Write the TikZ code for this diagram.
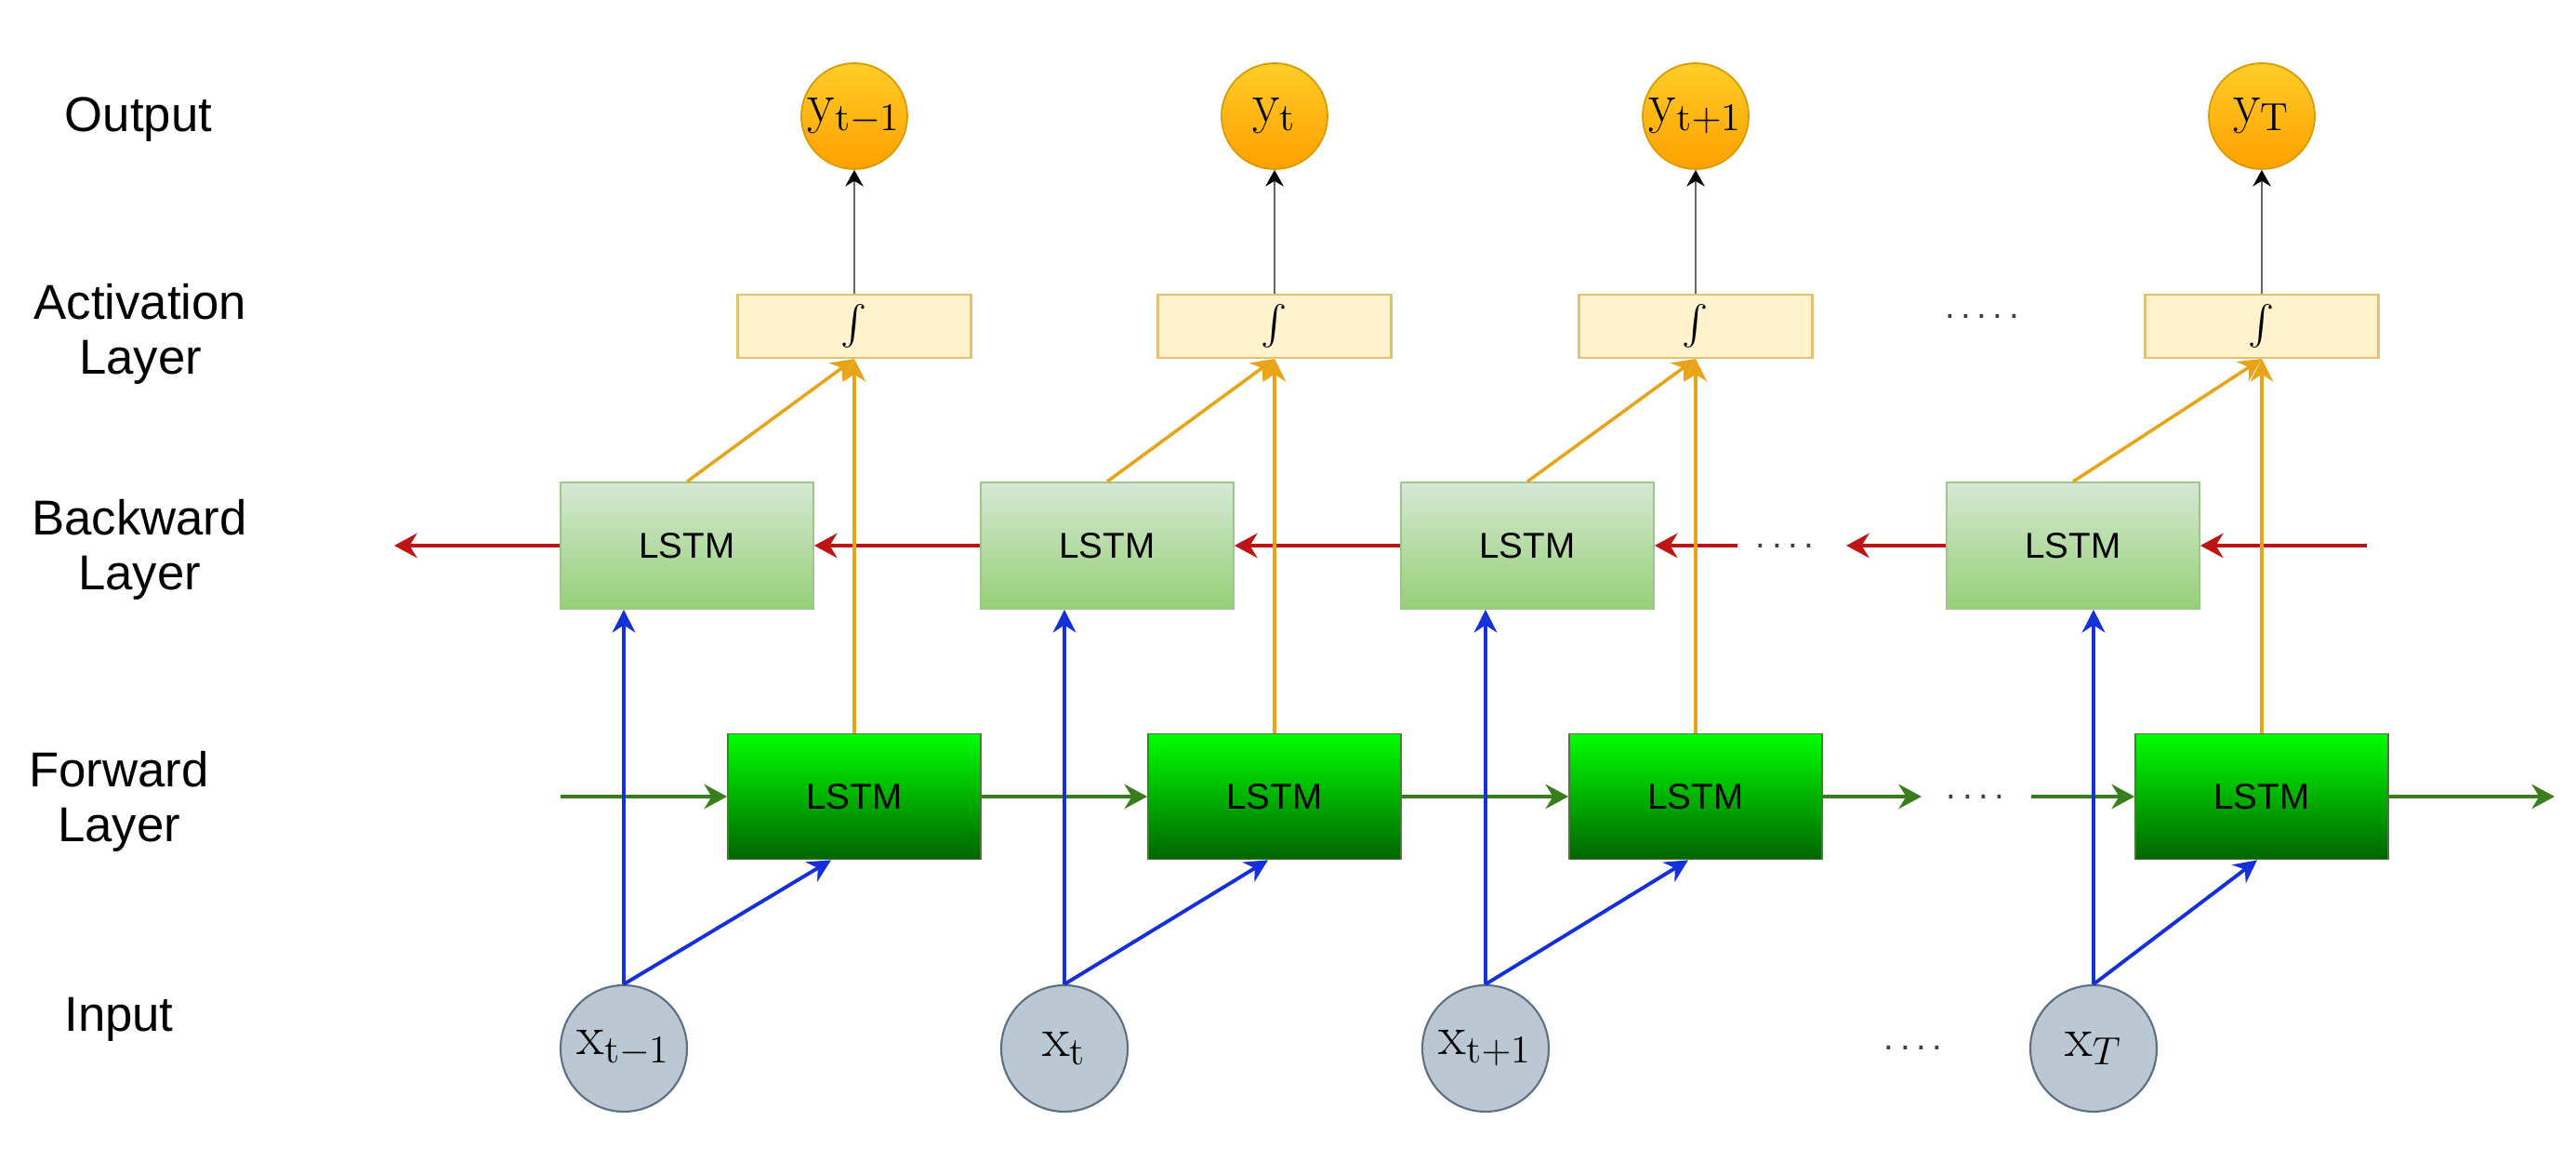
\documentclass[tikz,border=0pt]{standalone}
\usepackage{amsmath}
\usepackage{fontspec}
\newfontfamily\lblfont{Liberation Sans}
\usetikzlibrary{arrows.meta}
\definecolor{outtop}{HTML}{FFCD28}
\definecolor{outbot}{HTML}{FFA000}
\definecolor{outedge}{HTML}{D79B00}
\definecolor{actfill}{HTML}{FFF2CC}
\definecolor{actedge}{HTML}{E0C270}
\definecolor{bwtop}{HTML}{D5E8D4}
\definecolor{bwbot}{HTML}{97D077}
\definecolor{bwedge}{HTML}{9CC78A}
\definecolor{fwtop}{HTML}{00FF00}
\definecolor{fwbot}{HTML}{006400}
\definecolor{fwedge}{HTML}{4A7A3A}
\definecolor{infill}{HTML}{BAC8D3}
\definecolor{inedge}{HTML}{5B7083}
\definecolor{redarr}{HTML}{BE1414}
\definecolor{greenarr}{HTML}{3A7D1C}
\definecolor{bluearr}{HTML}{1530D8}
\definecolor{orangearr}{HTML}{E8A317}
\begin{document}
\begin{tikzpicture}
    \tikzstyle{outnode}=[circle, minimum size=1.14cm, inner sep=0pt, draw=outedge, line width=0.5pt, top color=outtop, bottom color=outbot, font=\LARGE]
    \tikzstyle{innode}=[circle, minimum size=1.36cm, inner sep=0pt, draw=inedge, line width=0.6pt, fill=infill, font=\LARGE]
    \tikzstyle{actbox}=[rectangle, minimum width=2.51cm, minimum height=0.68cm, inner sep=0pt, draw=actedge, line width=0.6pt, fill=actfill, font=\large]
    \tikzstyle{bwbox}=[rectangle, minimum width=2.72cm, minimum height=1.36cm, inner sep=0pt, draw=bwedge, line width=0.5pt, top color=bwtop, bottom color=bwbot, font=\lblfont\fontsize{11}{13}\selectfont]
    \tikzstyle{fwbox}=[rectangle, minimum width=2.72cm, minimum height=1.35cm, inner sep=0pt, draw=fwedge, line width=0.5pt, top color=fwtop, bottom color=fwbot, font=\lblfont\fontsize{11}{13}\selectfont]
    \tikzstyle{layer}=[align=center, inner sep=0pt, font=\lblfont\fontsize{15}{16.8}\selectfont]
    \tikzstyle{gap}=[inner sep=0pt, text=black!75, font=\lblfont\fontsize{11}{13}\selectfont]
    \tikzstyle{outarr}=[draw=black!60, line width=0.8pt, -{Stealth[length=5pt,width=5.5pt,color=black]}]
    \tikzstyle{orarr}=[draw=orangearr, line width=1pt, -{Stealth[length=7pt,width=7pt]}]
    \tikzstyle{bluarr}=[draw=bluearr, line width=1.1pt, -{Stealth[length=7pt,width=7pt]}]
    \tikzstyle{bwarr}=[draw=redarr, line width=1.3pt, -{Stealth[length=7pt,width=7.5pt]}]
    \tikzstyle{fwarr}=[draw=greenarr, line width=1.1pt, -{Stealth[length=7pt,width=7.5pt]}]

    \useasboundingbox (0,0) rectangle (27.71,12.48);

    \node[layer] (lout) at (1.49,11.19) {Output};
    \node[layer] (lact) at (1.51,8.89) {Activation\\Layer};
    \node[layer] (lbw)  at (1.50,6.57) {Backward\\Layer};
    \node[layer] (lfw)  at (1.28,3.86) {Forward\\Layer};
    \node[layer] (lin)  at (1.28,1.51) {Input};

    \node[outnode] (y1) at (9.19,11.23)  {$\mathrm{y}_{\mathrm{t-1}}$};
    \node[outnode] (y2) at (13.71,11.23) {$\mathrm{y}_{\mathrm{t}}$};
    \node[outnode] (y3) at (18.24,11.23) {$\mathrm{y}_{\mathrm{t+1}}$};
    \node[outnode] (y4) at (24.33,11.23) {$\mathrm{y}_{\mathrm{T}}$};

    \node[actbox] (a1) at (9.19,8.97)  {$\int$};
    \node[actbox] (a2) at (13.71,8.97) {$\int$};
    \node[actbox] (a3) at (18.24,8.97) {$\int$};
    \node[actbox] (a4) at (24.33,8.97) {$\int$};

    \node[bwbox] (b1) at (7.39,6.61)  {LSTM};
    \node[bwbox] (b2) at (11.91,6.61) {LSTM};
    \node[bwbox] (b3) at (16.43,6.61) {LSTM};
    \node[bwbox] (b4) at (22.30,6.61) {LSTM};

    \node[fwbox] (f1) at (9.19,3.91)  {LSTM};
    \node[fwbox] (f2) at (13.71,3.91) {LSTM};
    \node[fwbox] (f3) at (18.24,3.91) {LSTM};
    \node[fwbox] (f4) at (24.33,3.91) {LSTM};

    \node[innode] (x1) at (6.71,1.20)  {$\mathrm{x}_{\mathrm{t-1}}$};
    \node[innode] (x2) at (11.45,1.20) {$\mathrm{x}_{\mathrm{t}}$};
    \node[innode] (x3) at (15.98,1.20) {$\mathrm{x}_{\mathrm{t+1}}$};
    \node[innode] (x4) at (22.52,1.20) {$\mathrm{x}_{T}$};

    \node[gap] (dact) at (21.32,9.08) {.\,.\,.\,.\,.};
    \node[gap] (dbw)  at (19.20,6.61) {.\,.\,.\,.};
    \node[gap] (dfw)  at (21.25,3.91) {.\,.\,.\,.};
    \node[gap] (din)  at (20.58,1.21) {.\,.\,.\,.};

    \coordinate (bwend)   at (4.24,6.61);
    \coordinate (bwstart) at (25.46,6.61);
    \coordinate (bwtip)   at (19.86,6.61);
    \coordinate (bwtail)  at (18.69,6.61);
    \coordinate (fwstart) at (6.03,3.91);
    \coordinate (fwend)   at (27.48,3.91);
    \coordinate (fwtip)   at (20.67,3.91);
    \coordinate (fwtail)  at (21.85,3.91);

    \draw[bwarr] (b1.west) -- (bwend);
    \draw[bwarr] (b2.west) -- (b1.east);
    \draw[bwarr] (b3.west) -- (b2.east);
    \draw[bwarr] (bwtail) -- (b3.east);
    \draw[bwarr] (b4.west) -- (bwtip);
    \draw[bwarr] (bwstart) -- (b4.east);

    \draw[fwarr] (fwstart) -- (f1.west);
    \draw[fwarr] (f1.east) -- (f2.west);
    \draw[fwarr] (f2.east) -- (f3.west);
    \draw[fwarr] (f3.east) -- (fwtip);
    \draw[fwarr] (fwtail) -- (f4.west);
    \draw[fwarr] (f4.east) -- (fwend);

    \draw[bluarr] (x1.north) -- (x1.north |- b1.south);
    \draw[bluarr] (x2.north) -- (x2.north |- b2.south);
    \draw[bluarr] (x3.north) -- (x3.north |- b3.south);
    \draw[bluarr] (x4.north) -- (x4.north |- b4.south);
    \draw[bluarr] (x1.north) -- ([xshift=-0.25cm]f1.south);
    \draw[bluarr] (x2.north) -- ([xshift=-0.07cm]f2.south);
    \draw[bluarr] (x3.north) -- ([xshift=-0.08cm]f3.south);
    \draw[bluarr] (x4.north) -- ([xshift=-0.05cm]f4.south);

    \draw[orarr] (f1.north) -- (a1.south);
    \draw[orarr] (f2.north) -- (a2.south);
    \draw[orarr] (f3.north) -- (a3.south);
    \draw[orarr] (f4.north) -- (a4.south);
    \draw[orarr] (b1.north) -- (a1.south);
    \draw[orarr] (b2.north) -- (a2.south);
    \draw[orarr] (b3.north) -- (a3.south);
    \draw[orarr] (b4.north) -- (a4.south);

    \draw[outarr] (a1.north) -- (y1.south);
    \draw[outarr] (a2.north) -- (y2.south);
    \draw[outarr] (a3.north) -- (y3.south);
    \draw[outarr] (a4.north) -- (y4.south);

\end{tikzpicture}
\end{document}
